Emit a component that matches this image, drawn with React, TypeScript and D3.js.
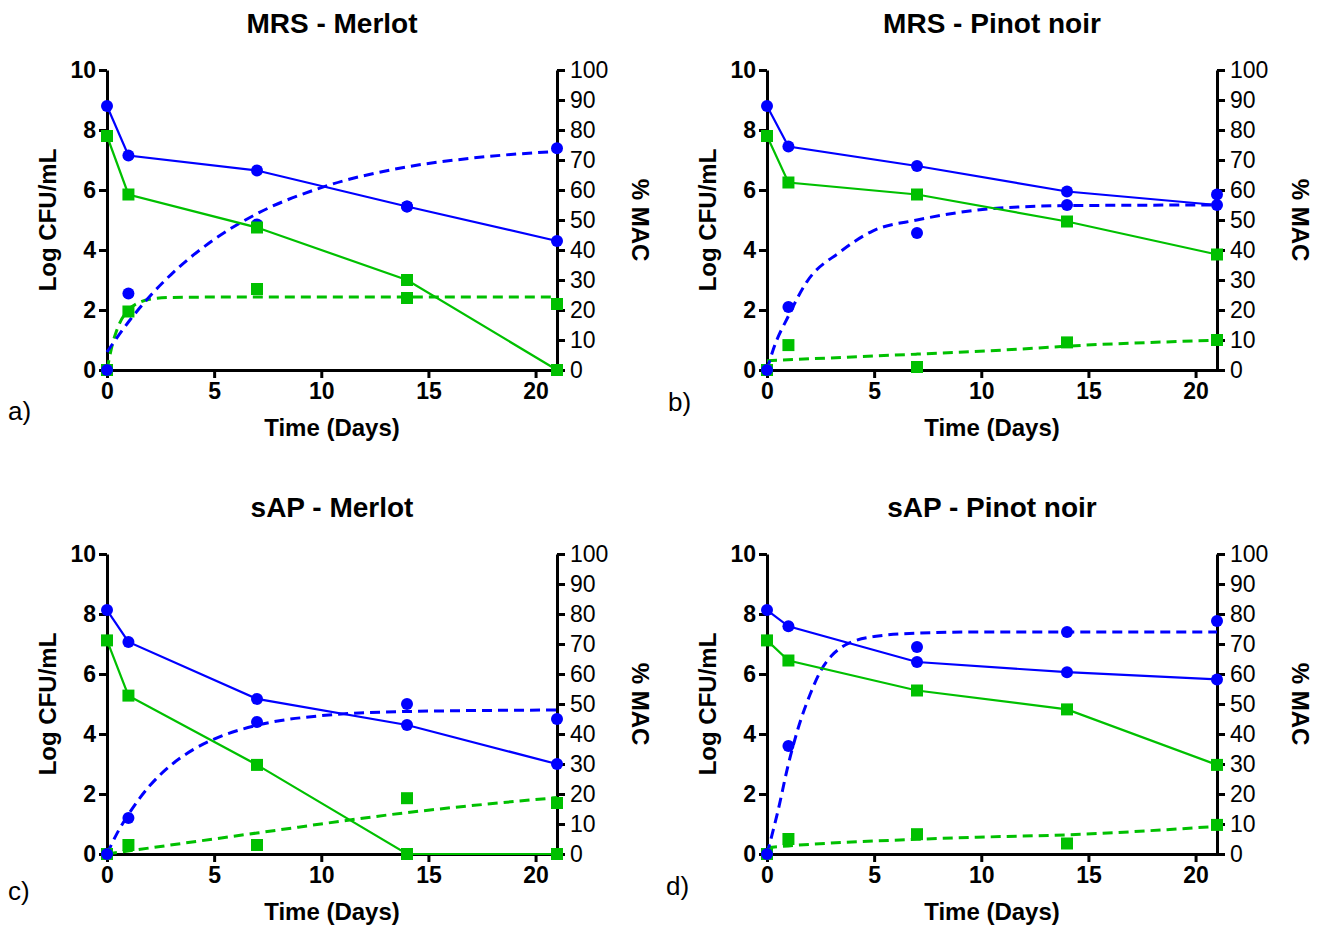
import React, { useEffect, useRef } from 'react';
import * as d3 from 'd3';

// x positions of the measurements (days)
const days = [0, 1, 7, 14, 21];

// a) MRS - Merlot
const aBlueCfu = [8.8, 7.15, 6.65, 5.45, 4.3];
const aGreenCfu = [7.8, 5.85, 4.75, 3.0, 0];
const aBlueMac = [0, 25.5, 48.5, 54.5, 73.9];
const aGreenMac = [0, 19.5, 27, 24, 22];
const aBlueFitDays = [0, 1, 2, 3, 5, 7, 10, 14, 17, 21];
const aBlueFit = [6, 16, 24.6, 31.9, 43.5, 52.1, 60.8, 67.7, 70.6, 72.9];
const aGreenFitDays = [0, 0.25, 0.5, 1, 1.5, 2, 3, 5, 21];
const aGreenFit = [0, 8.5, 14.1, 20, 22.5, 23.6, 24.2, 24.3, 24.3];

// b) MRS - Pinot noir
const bBlueCfu = [8.8, 7.45, 6.8, 5.95, 5.5];
const bGreenCfu = [7.8, 6.25, 5.85, 4.95, 3.85];
const bBlueMac = [0, 21, 45.7, 55, 58.5];
const bGreenMac = [0, 8.3, 1, 9.2, 10];
const bBlueFitDays = [0, 0.3, 1, 1.85, 3.4, 4.95, 7, 10.4, 14, 21];
const bBlueFit = [0, 7, 18, 29.3, 39.3, 46.4, 50, 53.7, 54.8, 55];
const bGreenFitDays = [0, 7, 10.4, 14.9, 21];
const bGreenFit = [3.1, 5.3, 6.4, 8.3, 9.9];

// c) sAP - Merlot
const cBlueCfu = [8.13, 7.07, 5.17, 4.3, 3.0];
const cGreenCfu = [7.12, 5.28, 2.97, 0, 0];
const cBlueMac = [0, 12, 44, 50, 45];
const cGreenMac = [0, 3, 3, 18.6, 17];
const cBlueFitDays = [0, 0.5, 1, 2, 3, 4, 5, 7, 10, 14, 21];
const cBlueFit = [0, 7.3, 13.2, 22.8, 29.7, 34.7, 38.3, 42.9, 46.1, 47.5, 48];
const cGreenFitDays = [0, 7, 14, 21];
const cGreenFit = [0, 7, 13.8, 18.8];

// d) sAP - Pinot noir
const dBlueCfu = [8.13, 7.59, 6.4, 6.06, 5.82];
const dGreenCfu = [7.12, 6.45, 5.45, 4.82, 2.97];
const dBlueMac = [0, 36, 69, 74, 77.7];
const dGreenMac = [0, 5, 6.6, 3.5, 9.7];
const dBlueFitDays = [0, 0.5, 1, 1.5, 2, 2.5, 3, 3.5, 4, 5, 7, 10, 14, 21];
const dBlueFit = [0, 14, 30, 43, 53, 61, 66, 69, 70.8, 72.5, 73.6, 74, 74, 74];
const dGreenFitDays = [0, 1, 7, 10.4, 14, 21];
const dGreenFit = [2.1, 2.7, 4.9, 5.7, 6.4, 9.2];

const cfuTicks = [0, 2, 4, 6, 8, 10];
const macTicks = [0, 10, 20, 30, 40, 50, 60, 70, 80, 90, 100];
const dayTicks = [0, 5, 10, 15, 20];

const BLUE = '#0000ff';
const GREEN = '#00c000';
const FONT = '"Liberation Sans", Arial, sans-serif';

const panels = [
  { title: 'MRS - Merlot', letter: 'a)', left: 107, top: 70, letterX: 8, letterY: 420,
    blueCfu: aBlueCfu, greenCfu: aGreenCfu, blueMac: aBlueMac, greenMac: aGreenMac,
    blueFitDays: aBlueFitDays, blueFit: aBlueFit, greenFitDays: aGreenFitDays, greenFit: aGreenFit },
  { title: 'MRS - Pinot noir', letter: 'b)', left: 767, top: 70, letterX: 668, letterY: 411,
    blueCfu: bBlueCfu, greenCfu: bGreenCfu, blueMac: bBlueMac, greenMac: bGreenMac,
    blueFitDays: bBlueFitDays, blueFit: bBlueFit, greenFitDays: bGreenFitDays, greenFit: bGreenFit },
  { title: 'sAP - Merlot', letter: 'c)', left: 107, top: 554, letterX: 8, letterY: 900,
    blueCfu: cBlueCfu, greenCfu: cGreenCfu, blueMac: cBlueMac, greenMac: cGreenMac,
    blueFitDays: cBlueFitDays, blueFit: cBlueFit, greenFitDays: cGreenFitDays, greenFit: cGreenFit },
  { title: 'sAP - Pinot noir', letter: 'd)', left: 767, top: 554, letterX: 666, letterY: 895,
    blueCfu: dBlueCfu, greenCfu: dGreenCfu, blueMac: dBlueMac, greenMac: dGreenMac,
    blueFitDays: dBlueFitDays, blueFit: dBlueFit, greenFitDays: dGreenFitDays, greenFit: dGreenFit },
];

export default function App() {
  const svgRef = useRef<SVGSVGElement>(null);

  useEffect(() => {
    if (!svgRef.current) return;
    const svg = d3.select(svgRef.current);
    svg.selectAll('*').remove();

    const plotW = 450;
    const plotH = 300;

    panels.forEach((p) => {
      const g = svg.append('g').attr('transform', `translate(${p.left},${p.top})`);

      const x = d3.scaleLinear().domain([0, 21]).range([0, plotW]);
      const yCfu = d3.scaleLinear().domain([0, 10]).range([plotH, 0]);
      const yMac = d3.scaleLinear().domain([0, 100]).range([plotH, 0]);

      // Axes
      const styleAxis = (sel: any, bold: boolean) => {
        sel.select('.domain').attr('stroke', '#000').attr('stroke-width', 3);
        sel.selectAll('.tick line').attr('stroke', '#000').attr('stroke-width', 3);
        sel.selectAll('.tick text')
          .attr('fill', '#000')
          .attr('font-family', FONT)
          .attr('font-size', '23px')
          .attr('font-weight', bold ? 'bold' : 'normal');
      };

      g.append('g')
        .attr('transform', `translate(0,${plotH})`)
        .call(d3.axisBottom(x).tickValues(dayTicks).tickSize(8).tickSizeOuter(0).tickPadding(5))
        .call((s: any) => styleAxis(s, true));

      g.append('g')
        .call(d3.axisLeft(yCfu).tickValues(cfuTicks).tickSize(8).tickSizeOuter(0).tickPadding(3))
        .call((s: any) => styleAxis(s, true));

      g.append('g')
        .attr('transform', `translate(${plotW},0)`)
        .call(d3.axisRight(yMac).tickValues(macTicks).tickSize(8).tickSizeOuter(0).tickPadding(5))
        .call((s: any) => styleAxis(s, false));

      // Fitted curves on % MAC axis (dashed)
      const fitLine = d3.line<[number, number]>()
        .x(d => x(d[0]))
        .y(d => yMac(d[1]))
        .curve(d3.curveMonotoneX);

      g.append('path')
        .attr('d', fitLine(p.greenFitDays.map((d, i) => [d, p.greenFit[i]] as [number, number])))
        .attr('fill', 'none')
        .attr('stroke', GREEN)
        .attr('stroke-width', 3)
        .attr('stroke-dasharray', '10,6');

      g.append('path')
        .attr('d', fitLine(p.blueFitDays.map((d, i) => [d, p.blueFit[i]] as [number, number])))
        .attr('fill', 'none')
        .attr('stroke', BLUE)
        .attr('stroke-width', 3)
        .attr('stroke-dasharray', '10,6');

      // Viable counts (solid)
      const cfuLine = d3.line<number>()
        .x((d, i) => x(days[i]))
        .y(d => yCfu(d));

      g.append('path')
        .attr('d', cfuLine(p.greenCfu))
        .attr('fill', 'none')
        .attr('stroke', GREEN)
        .attr('stroke-width', 2.2);

      g.append('path')
        .attr('d', cfuLine(p.blueCfu))
        .attr('fill', 'none')
        .attr('stroke', BLUE)
        .attr('stroke-width', 2.2);

      // Markers
      const sq = 12;
      const drawSquares = (vals: number[], y: any) => {
        g.append('g').selectAll('rect')
          .data(vals)
          .enter()
          .append('rect')
          .attr('x', (d, i) => x(days[i]) - sq / 2)
          .attr('y', d => y(d) - sq / 2)
          .attr('width', sq)
          .attr('height', sq)
          .attr('fill', GREEN);
      };
      const drawCircles = (vals: number[], y: any) => {
        g.append('g').selectAll('circle')
          .data(vals)
          .enter()
          .append('circle')
          .attr('cx', (d, i) => x(days[i]))
          .attr('cy', d => y(d))
          .attr('r', 6)
          .attr('fill', BLUE);
      };

      drawSquares(p.greenMac, yMac);
      drawCircles(p.blueMac, yMac);
      drawSquares(p.greenCfu, yCfu);
      drawCircles(p.blueCfu, yCfu);

      // Titles and labels
      g.append('text')
        .attr('x', plotW / 2)
        .attr('y', -37)
        .attr('text-anchor', 'middle')
        .attr('font-family', FONT)
        .attr('font-size', '28px')
        .attr('font-weight', 'bold')
        .text(p.title);

      g.append('text')
        .attr('x', plotW / 2)
        .attr('y', plotH + 66)
        .attr('text-anchor', 'middle')
        .attr('font-family', FONT)
        .attr('font-size', '24px')
        .attr('font-weight', 'bold')
        .text('Time (Days)');

      g.append('text')
        .attr('transform', `translate(-51,${plotH / 2}) rotate(-90)`)
        .attr('text-anchor', 'middle')
        .attr('font-family', FONT)
        .attr('font-size', '24px')
        .attr('font-weight', 'bold')
        .text('Log CFU/mL');

      g.append('text')
        .attr('transform', `translate(${plotW + 75},${plotH / 2}) rotate(90)`)
        .attr('text-anchor', 'middle')
        .attr('font-family', FONT)
        .attr('font-size', '24px')
        .attr('font-weight', 'bold')
        .text('% MAC');

      svg.append('text')
        .attr('x', p.letterX)
        .attr('y', p.letterY)
        .attr('font-family', FONT)
        .attr('font-size', '26px')
        .text(p.letter);
    });
  }, []);

  return (
    <div style={{ position: 'absolute', left: 0, top: 0, background: '#fff' }}>
      <svg ref={svgRef} width={1323} height={926} style={{ display: 'block' }}></svg>
    </div>
  );
}
